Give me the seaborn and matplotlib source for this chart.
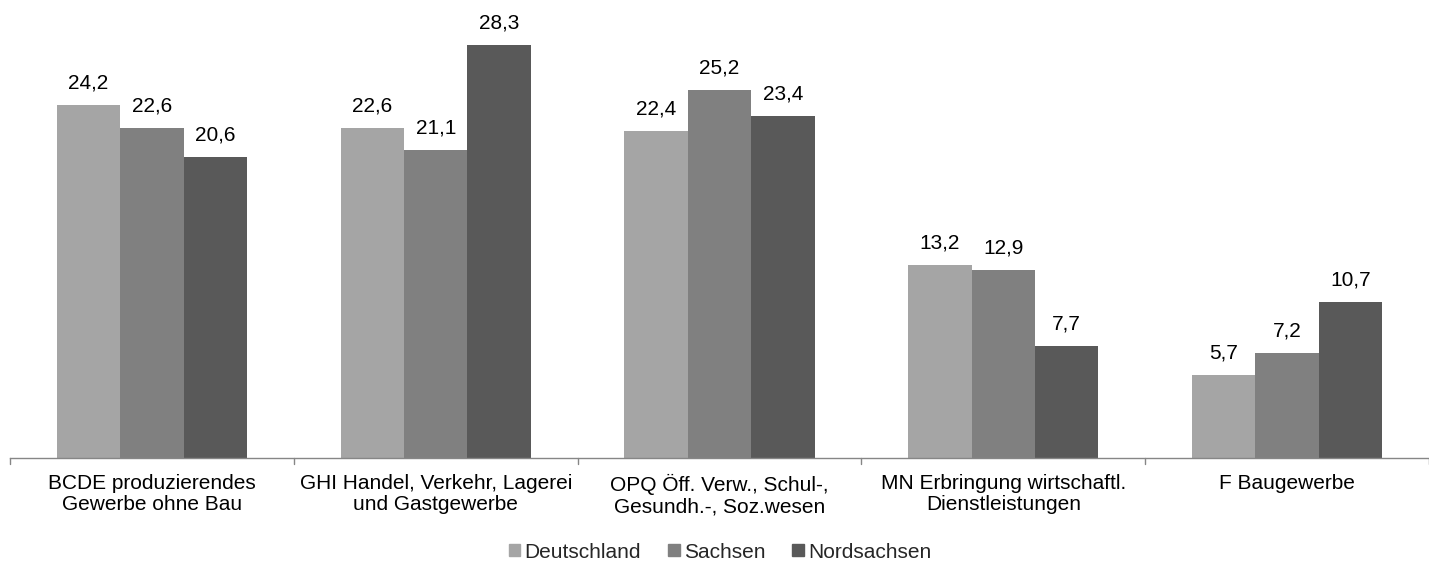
import matplotlib
matplotlib.use("Agg")
import matplotlib.pyplot as plt
import seaborn as sns
import pandas as pd
import numpy as np

categories = [
    "BCDE produzierendes\nGewerbe ohne Bau",
    "GHI Handel, Verkehr, Lagerei\nund Gastgewerbe",
    "OPQ Öff. Verw., Schul-,\nGesundh.-, Soz.wesen",
    "MN Erbringung wirtschaftl.\nDienstleistungen",
    "F Baugewerbe",
]
series = ["Deutschland", "Sachsen", "Nordsachsen"]
deutschland = [24.2, 22.6, 22.4, 13.2, 5.7]
sachsen = [22.6, 21.1, 25.2, 12.9, 7.2]
nordsachsen = [20.6, 28.3, 23.4, 7.7, 10.7]
colors = ["#a5a5a5", "#808080", "#595959"]

sns.set_theme(style="white")
plt.rcParams["font.family"] = ["Liberation Sans", "DejaVu Sans"]

rows = []
for name, vals in zip(series, [deutschland, sachsen, nordsachsen]):
    for cat, v in zip(categories, vals):
        rows.append({"Kategorie": cat, "Region": name, "Wert": v})
df = pd.DataFrame(rows)

fs = 15

fig = plt.figure(figsize=(14.29, 5.63), dpi=100)
ax = fig.add_axes([10 / 1429, 105 / 563, 1 - 10 / 1429, 1 - 105 / 563])

sns.barplot(data=df, x="Kategorie", y="Wert", hue="Region", order=categories,
            hue_order=series, palette=colors, width=0.67, gap=0,
            saturation=1, errorbar=None, ax=ax, legend=True, edgecolor="none")

for cont in ax.containers:
    labels = [f"{b.get_height():.1f}".replace(".", ",") for b in cont]
    ax.bar_label(cont, labels=labels, padding=9, fontsize=fs, color="#000000")

ax.set_ylim(0, 31.37)
ax.set_xlim(-0.5, len(categories) - 0.5)
ax.set_xlabel("")
ax.set_ylabel("")
ax.set_yticks([])
for s in ["top", "right", "left"]:
    ax.spines[s].set_visible(False)
ax.spines["bottom"].set_color("#868686")
ax.spines["bottom"].set_linewidth(1)

ax.set_xticks(np.arange(len(categories)))
ax.set_xticklabels(categories, fontsize=fs, color="#000000", linespacing=1.15)
ax.tick_params(axis="x", length=0, pad=11.5)
for b in np.arange(len(categories) + 1) - 0.5:
    ax.plot([b, b], [0, -0.4], color="#868686", lw=1, clip_on=False)

leg = ax.get_legend()
leg.remove()
handles = [plt.Rectangle((0, 0), 1, 1, color=c) for c in colors]
fig.legend(handles, series, loc="center", bbox_to_anchor=(720 / 1429, 11 / 563),
           ncol=3, frameon=False, fontsize=fs, handlelength=0.55, handleheight=0.55,
           handletextpad=0.2, columnspacing=1.3)

fig.savefig("out.png", dpi=100)
